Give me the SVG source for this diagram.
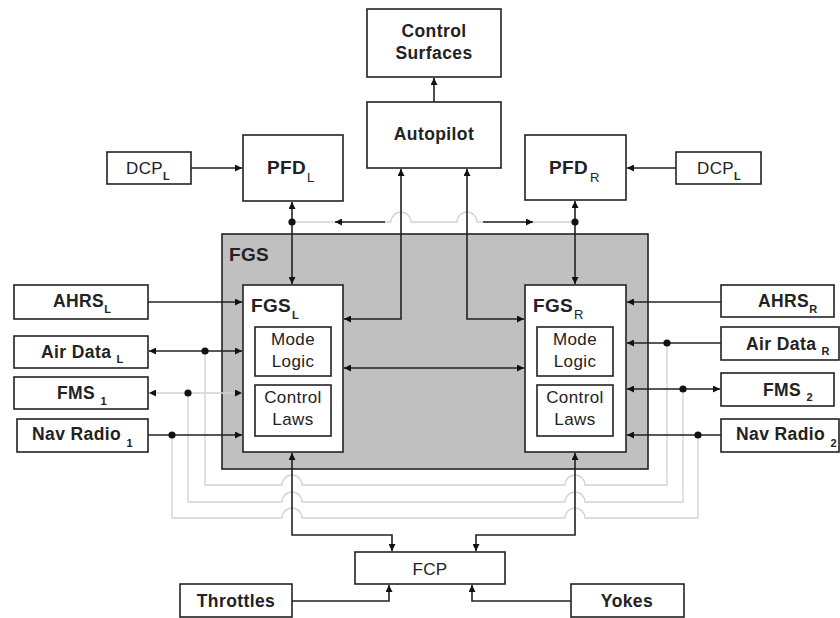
<svg xmlns="http://www.w3.org/2000/svg" width="840" height="618" viewBox="0 0 840 618">
<style>
.box{fill:#fff;stroke:#222;stroke-width:1.6}
.fgs{fill:#c0c0c0;stroke:#222;stroke-width:1.6}
.ln{fill:none;stroke:#222;stroke-width:1.6}
.gl{fill:none;stroke:#d2d2d2;stroke-width:1.3}
.dot{fill:#111}
text{font-family:"Liberation Sans",Arial,sans-serif;fill:#222}
.b{font-weight:bold;font-size:17.5px;letter-spacing:0.4px}
.r{font-size:17px;letter-spacing:0.4px}
.big{font-weight:bold;font-size:19px;letter-spacing:0.3px}
.c{text-anchor:middle}
.s{font-size:11px;font-weight:bold}
.sb{font-size:13px;font-weight:normal}
</style>
<defs>
<marker id="a" markerUnits="userSpaceOnUse" markerWidth="8" markerHeight="7" refX="7" refY="3.5" orient="auto-start-reverse">
<path d="M0,0 L7,3.5 L0,7 z" fill="#111"/>
</marker>
</defs>

<g id="fgs"><rect class="fgs" x="222" y="234" width="426" height="235"/><text class="big" x="229" y="261">FGS</text></g>

<g id="connectors">
<path class="gl" d="M292,222 H391 A10,10 0 0 1 411,222 H457 A10,10 0 0 1 477,222 H575"/>
<path class="gl" d="M205,351 V485 H282 A10,10 0 0 1 302,485 H565 A10,10 0 0 1 585,485 H667 V343"/>
<path class="gl" d="M188,393 V502 H282 A10,10 0 0 1 302,502 H565 A10,10 0 0 1 585,502 H683 V389"/>
<path class="gl" d="M172,435 V518 H282 A10,10 0 0 1 302,518 H565 A10,10 0 0 1 585,518 H698 V435"/>
<path class="gl" d="M149,393 H242" marker-start="url(#a)" marker-end="url(#a)"/>
<path class="ln" d="M191,168 H242" marker-end="url(#a)"/>
<path class="ln" d="M676,168 H627" marker-end="url(#a)"/>
<path class="ln" d="M434,102 V78" marker-end="url(#a)"/>
<path class="ln" d="M292,202 V284" marker-start="url(#a)" marker-end="url(#a)"/>
<path class="ln" d="M575,201 V284" marker-start="url(#a)" marker-end="url(#a)"/>
<path class="ln" d="M385,222 H335" marker-end="url(#a)"/>
<path class="ln" d="M483,222 H533" marker-end="url(#a)"/>
<path class="ln" d="M344,319 H401 V169" marker-start="url(#a)" marker-end="url(#a)"/>
<path class="ln" d="M524,319 H467 V169" marker-start="url(#a)" marker-end="url(#a)"/>
<path class="ln" d="M344,368 H524" marker-start="url(#a)" marker-end="url(#a)"/>
<path class="ln" d="M148,302 H242" marker-end="url(#a)"/>
<path class="ln" d="M149,351 H242" marker-start="url(#a)" marker-end="url(#a)"/>
<path class="ln" d="M148,435 H242" marker-end="url(#a)"/>
<path class="ln" d="M721,302 H627" marker-end="url(#a)"/>
<path class="ln" d="M721,343 H627" marker-end="url(#a)"/>
<path class="ln" d="M627,389 H720" marker-start="url(#a)" marker-end="url(#a)"/>
<path class="ln" d="M721,435 H627" marker-end="url(#a)"/>
<path class="ln" d="M292,453 V535 H392 V551" marker-start="url(#a)" marker-end="url(#a)"/>
<path class="ln" d="M575,453 V535 H476 V551" marker-start="url(#a)" marker-end="url(#a)"/>
<path class="ln" d="M292,601 H389 V585" marker-end="url(#a)"/>
<path class="ln" d="M571,601 H472 V585" marker-end="url(#a)"/>
<circle class="dot" cx="292" cy="222" r="3.6"/>
<circle class="dot" cx="575" cy="222" r="3.6"/>
<circle class="dot" cx="205" cy="351" r="3.6"/>
<circle class="dot" cx="188" cy="393" r="3.6"/>
<circle class="dot" cx="172" cy="435" r="3.6"/>
<circle class="dot" cx="667" cy="343" r="3.6"/>
<circle class="dot" cx="683" cy="389" r="3.6"/>
<circle class="dot" cx="698" cy="435" r="3.6"/>
</g>

<g id="control-surfaces"><rect class="box" x="367" y="9" width="134" height="68"/><text class="b c" x="434" y="37">Control</text><text class="b c" x="434" y="59">Surfaces</text></g>
<g id="autopilot"><rect class="box" x="367" y="102" width="134" height="66"/><text class="b c" x="434" y="140">Autopilot</text></g>
<g id="dcp-l"><rect class="box" x="107" y="152" width="84" height="32"/><text class="r" x="126" y="174">DCP<tspan class="s" dy="6">L</tspan></text></g>
<g id="pfd-l"><rect class="box" x="243" y="135" width="100" height="66"/><text class="big" x="267" y="174">PFD<tspan class="sb" dx="1" dy="8">L</tspan></text></g>
<g id="pfd-r"><rect class="box" x="525" y="135" width="101" height="65"/><text class="big" x="549" y="174">PFD<tspan class="sb" dx="2" dy="8">R</tspan></text></g>
<g id="dcp-r"><rect class="box" x="676" y="152" width="85" height="32"/><text class="r" x="697" y="174">DCP<tspan class="s" dy="6">L</tspan></text></g>

<g id="fgs-l"><rect class="box" x="243" y="285" width="100" height="167"/><text class="big" x="251" y="312">FGS<tspan class="s" dx="1" dy="7">L</tspan></text>
<rect class="box" x="255" y="327" width="76" height="49"/><text class="r c" x="293" y="345">Mode</text><text class="r c" x="293" y="367">Logic</text>
<rect class="box" x="255" y="385" width="76" height="51"/><text class="r c" x="293" y="403">Control</text><text class="r c" x="293" y="425">Laws</text></g>

<g id="fgs-r"><rect class="box" x="525" y="285" width="101" height="167"/><text class="big" x="533" y="312">FGS<tspan class="sb" dx="1" dy="7">R</tspan></text>
<rect class="box" x="537" y="327" width="76" height="49"/><text class="r c" x="575" y="345">Mode</text><text class="r c" x="575" y="367">Logic</text>
<rect class="box" x="537" y="385" width="76" height="51"/><text class="r c" x="575" y="403">Control</text><text class="r c" x="575" y="425">Laws</text></g>

<g id="ahrs-l"><rect class="box" x="14" y="285" width="134" height="34"/><text class="b" x="53" y="307">AHRS<tspan class="s" dy="6">L</tspan></text></g>
<g id="airdata-l"><rect class="box" x="14" y="336" width="134" height="32"/><text class="b" x="41" y="358">Air Data <tspan class="s" dy="5">L</tspan></text></g>
<g id="fms-1"><rect class="box" x="14" y="377" width="134" height="32"/><text class="b" x="57" y="399">FMS <tspan class="s" dy="6">1</tspan></text></g>
<g id="navradio-1"><rect class="box" x="17" y="419" width="131" height="33"/><text class="b" x="32" y="440">Nav Radio <tspan class="s" dy="7">1</tspan></text></g>

<g id="ahrs-r"><rect class="box" x="721" y="285" width="113" height="32"/><text class="b" x="758" y="307">AHRS<tspan class="s" dy="6">R</tspan></text></g>
<g id="airdata-r"><rect class="box" x="721" y="327" width="118" height="33"/><text class="b" x="746" y="350">Air Data <tspan class="s" dy="5">R</tspan></text></g>
<g id="fms-2"><rect class="box" x="721" y="373" width="113" height="33"/><text class="b" x="763" y="396">FMS <tspan class="s" dy="5">2</tspan></text></g>
<g id="navradio-2"><rect class="box" x="721" y="419" width="118" height="33"/><text class="b" x="736" y="440">Nav Radio <tspan class="s" dy="7">2</tspan></text></g>

<g id="fcp"><rect class="box" x="355" y="552" width="150" height="32"/><text class="r c" x="430" y="575">FCP</text></g>
<g id="throttles"><rect class="box" x="180" y="584" width="112" height="33"/><text class="b c" x="236" y="607">Throttles</text></g>
<g id="yokes"><rect class="box" x="571" y="584" width="113" height="33"/><text class="b c" x="627" y="607">Yokes</text></g>
</svg>
